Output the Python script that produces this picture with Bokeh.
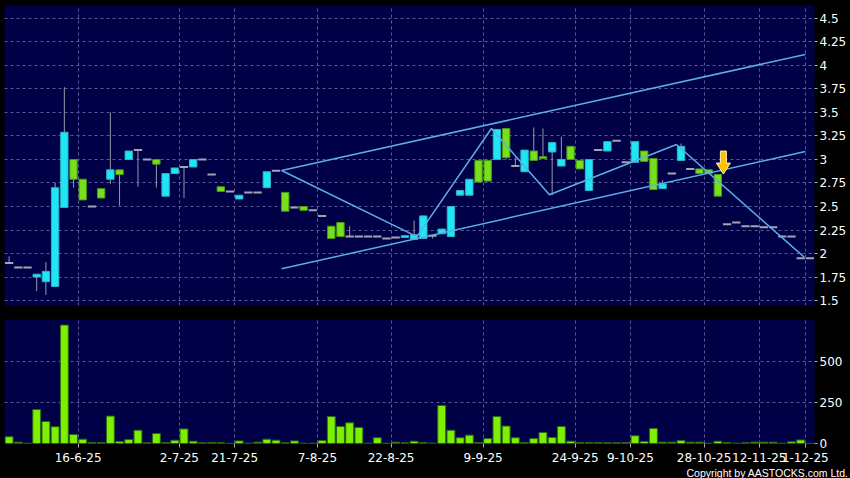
from bokeh.plotting import figure
from bokeh.layouts import column
from bokeh.models import ColumnDataSource, FixedTicker, Range1d, Title
from bokeh.embed import file_html
from bokeh.resources import INLINE

# ---------------- data ----------------
opens = [1.90, 1.85, 1.85, 1.75, 1.70, 1.65, 2.49, 3.00, 2.79, 2.50,
         2.69, 2.79, 2.89, 3.00, 3.10, 3.00, 3.00, 2.61, 2.85, 2.92,
         2.92, 3.00, 2.84, 2.71, 2.66, 2.58, 2.65, 2.65, 2.70, 2.88,
         2.65, 2.49, 2.50, 2.46, 2.40, 2.29, 2.33, 2.18, 2.18, 2.18,
         2.18, 2.16, 2.17, 2.17, 2.15, 2.16, 2.19, 2.21, 2.18, 2.62,
         2.62, 2.99, 2.99, 3.00, 3.33, 2.93, 2.87, 3.09, 3.03, 3.08,
         2.93, 3.14, 2.99, 2.67, 3.10, 3.09, 3.20, 2.97, 2.97, 3.09,
         3.01, 2.69, 2.85, 2.99, 2.90, 2.90, 2.89, 2.84, 2.31, 2.33,
         2.29, 2.29, 2.28, 2.28, 2.18, 2.18, 1.95, 1.95]
highs = [1.97, 1.85, 1.85, 1.78, 1.91, 2.75, 3.77, 3.00, 2.79, 2.50,
         2.69, 3.50, 2.89, 3.09, 3.11, 3.00, 3.00, 2.85, 2.91, 2.92,
         3.00, 3.00, 2.84, 2.71, 2.66, 2.62, 2.65, 2.65, 2.87, 2.88,
         2.65, 2.49, 2.50, 2.46, 2.40, 2.29, 2.33, 2.29, 2.18, 2.18,
         2.18, 2.16, 2.17, 2.19, 2.35, 2.40, 2.19, 2.26, 2.50, 2.67,
         2.79, 2.99, 2.99, 3.32, 3.33, 3.02, 3.10, 3.34, 3.33, 3.18,
         3.24, 3.14, 2.99, 3.00, 3.10, 3.19, 3.20, 2.97, 3.19, 3.09,
         3.01, 2.78, 2.85, 3.17, 2.90, 2.90, 2.89, 2.84, 2.31, 2.33,
         2.29, 2.29, 2.28, 2.28, 2.18, 2.18, 1.95, 1.95]
lows = [1.90, 1.85, 1.85, 1.60, 1.56, 1.65, 2.49, 2.70, 2.57, 2.50,
        2.59, 2.74, 2.51, 3.00, 2.71, 3.00, 2.70, 2.61, 2.85, 2.59,
        2.92, 3.00, 2.84, 2.66, 2.66, 2.58, 2.65, 2.65, 2.70, 2.88,
        2.45, 2.49, 2.46, 2.46, 2.40, 2.16, 2.18, 2.18, 2.18, 2.18,
        2.18, 2.16, 2.17, 2.17, 2.15, 2.16, 2.16, 2.21, 2.18, 2.62,
        2.62, 2.76, 2.77, 3.00, 3.00, 2.93, 2.87, 2.99, 3.01, 2.62,
        2.93, 3.00, 2.90, 2.67, 3.10, 3.09, 3.20, 2.97, 2.97, 2.98,
        2.68, 2.69, 2.85, 2.99, 2.90, 2.85, 2.85, 2.61, 2.30, 2.33,
        2.29, 2.29, 2.28, 2.28, 2.18, 2.18, 1.95, 1.95]
closes = [1.90, 1.85, 1.85, 1.78, 1.81, 2.70, 3.29, 2.79, 2.57, 2.50,
          2.59, 2.89, 2.84, 3.09, 3.10, 3.00, 2.95, 2.85, 2.91, 2.92,
          3.00, 3.00, 2.84, 2.66, 2.66, 2.62, 2.65, 2.65, 2.87, 2.88,
          2.45, 2.49, 2.46, 2.46, 2.40, 2.16, 2.18, 2.18, 2.18, 2.18,
          2.18, 2.16, 2.17, 2.19, 2.20, 2.40, 2.19, 2.26, 2.50, 2.67,
          2.79, 2.76, 2.77, 3.32, 3.02, 2.93, 3.10, 2.99, 3.01, 3.18,
          3.00, 3.00, 2.90, 3.00, 3.10, 3.19, 3.20, 2.97, 3.19, 2.98,
          2.68, 2.74, 2.85, 3.14, 2.90, 2.85, 2.85, 2.61, 2.31, 2.33,
          2.29, 2.29, 2.28, 2.28, 2.18, 2.18, 1.95, 1.95]
volumes = [41, 8, 2, 207, 134, 102, 722, 55, 26, 6,
           6, 167, 12, 24, 81, 4, 61, 6, 20, 89,
           14, 4, 6, 6, 1, 16, 2, 8, 26, 20,
           4, 16, 2, 2, 18, 165, 104, 126, 98, 2,
           35, 2, 8, 4, 14, 6, 2, 232, 81, 35,
           51, 6, 30, 165, 106, 35, 6, 30, 67, 37,
           104, 14, 6, 6, 6, 4, 4, 6, 47, 12,
           92, 8, 8, 18, 8, 8, 2, 14, 6, 2,
           4, 8, 8, 8, 2, 10, 22, 1]

date_tick_idx = [7, 18, 24, 33, 41, 51, 61, 67, 75, 81, 86]
date_tick_labels = ["16-6-25", "2-7-25", "21-7-25", "7-8-25", "22-8-25", "9-9-25",
                    "24-9-25", "9-10-25", "28-10-25", "12-11-25", "1-12-25"]
price_ticks = [1.5, 1.75, 2.0, 2.25, 2.5, 2.75, 3.0, 3.25, 3.5, 3.75, 4.0, 4.25, 4.5]
volume_ticks = [0, 250, 500]

channel_x = [29.6, 86.5]
channel_upper = [2.883, 4.117]
channel_lower = [1.837, 3.085]
zigzag_x = [29.6, 44.3, 52.4, 58.7, 72.5, 86.4]
zigzag_y = [2.883, 2.18, 3.33, 2.625, 3.16, 1.96]
arrow_idx = 77

# ---------------- styling ----------------
NAVY = "#000046"
GRID = "#5c5c9c"
CYAN, CYAN_LINE = "#1ee6f5", "#2fb0c4"
GREEN, GREEN_LINE = "#77e01a", "#4a9a18"
WICK = "#9898a8"
FLAT = "#a4a4b4"
VOL_FILL, VOL_LINE = "#7cf000", "#2e6418"
TREND = "#5aaee8"
FONT = "DejaVu Sans"

n = len(opens)
idx = list(range(n))
x_range = Range1d(-0.5, n - 0.5)
FW = 810
PY0, PY1 = 1.447, 4.638

def style(p):
    p.background_fill_color = NAVY
    p.border_fill_color = "black"
    p.outline_line_color = None
    for ax in p.yaxis:
        ax.axis_line_color = None
        ax.major_tick_line_color = "#b0b0b0"
        ax.major_tick_out = 3
        ax.major_tick_in = 0
        ax.minor_tick_line_color = None
        ax.major_label_text_color = "white"
        ax.major_label_text_font = FONT
        ax.major_label_text_font_size = "12px"
        ax.major_label_standoff = 2
    p.xgrid.ticker = FixedTicker(ticks=[i + 0.5 for i in date_tick_idx])
    for g in (p.xgrid, p.ygrid):
        g.grid_line_color = GRID
        g.grid_line_dash = "3 3"
        g.grid_line_width = 1

# ---------------- price panel ----------------
p1 = figure(frame_width=FW, frame_height=300, x_range=x_range,
            y_range=Range1d(PY0, PY1), output_backend="svg",
            toolbar_location=None, x_axis_location=None, y_axis_location="right",
            min_border_left=4, min_border_top=5, min_border_bottom=7, min_border_right=36)
style(p1)
p1.yaxis.ticker = FixedTicker(ticks=price_ticks)
p1.yaxis.major_label_overrides = {t: f"{t:g}" for t in price_ticks}
p1.ygrid.ticker = FixedTicker(ticks=price_ticks)

up = [i for i in idx if closes[i] > opens[i]]
dn = [i for i in idx if closes[i] < opens[i]]
fl = [i for i in idx if closes[i] == opens[i]]

p1.segment(x0=idx, y0=lows, x1=idx, y1=highs, line_color=WICK, line_width=1)
src_up = ColumnDataSource(dict(x=up, top=[closes[i] for i in up], bottom=[opens[i] for i in up]))
src_dn = ColumnDataSource(dict(x=dn, top=[opens[i] for i in dn], bottom=[closes[i] for i in dn]))
p1.vbar(x="x", top="top", bottom="bottom", width=0.8, source=src_up,
        fill_color=CYAN, line_color=CYAN_LINE, line_width=1)
p1.vbar(x="x", top="top", bottom="bottom", width=0.8, source=src_dn,
        fill_color=GREEN, line_color=GREEN_LINE, line_width=1)
p1.segment(x0=[i - 0.45 for i in fl], y0=[closes[i] for i in fl],
           x1=[i + 0.45 for i in fl], y1=[closes[i] for i in fl],
           line_color=FLAT, line_width=2)

p1.line(channel_x, channel_upper, line_color=TREND, line_width=1.5)
p1.line(channel_x, channel_lower, line_color=TREND, line_width=1.5)
p1.line(zigzag_x, zigzag_y, line_color=TREND, line_width=1.5)

# down arrow marker above the breakdown candle (pixel sizes converted to data units)
px_x = n / float(FW)
px_y = (PY1 - PY0) / 300.0
ax0 = arrow_idx + 0.6
ay0 = opens[arrow_idx] + 0.005
shape = [(0, 0), (-7, 11), (-3, 11), (-3, 23), (3, 23), (3, 11), (7, 11)]
p1.patch([ax0 + dx * px_x for dx, dy in shape], [ay0 + dy * px_y for dx, dy in shape],
         fill_color="#ffc000", line_color="#fff2b0", line_width=1)

# ---------------- volume panel ----------------
p2 = figure(frame_width=FW, frame_height=124, x_range=x_range,
            y_range=Range1d(0, 756), output_backend="svg",
            toolbar_location=None, y_axis_location="right",
            min_border_left=4, min_border_top=7, min_border_bottom=0, min_border_right=36)
style(p2)
p2.yaxis.ticker = FixedTicker(ticks=volume_ticks)
p2.ygrid.ticker = FixedTicker(ticks=volume_ticks)
p2.xaxis.ticker = FixedTicker(ticks=[i + 0.5 for i in date_tick_idx])
p2.xaxis.major_label_overrides = {i + 0.5: lab for i, lab in zip(date_tick_idx, date_tick_labels)}
xa = p2.xaxis[0]
xa.axis_line_color = None
xa.major_tick_line_color = "#b0b0b0"
xa.major_tick_out = 4
xa.major_tick_in = 0
xa.minor_tick_line_color = None
xa.major_label_text_color = "white"
xa.major_label_text_font = FONT
xa.major_label_text_font_size = "12px"
xa.major_label_standoff = 5

p2.vbar(x=idx, top=volumes, bottom=0, width=0.86, fill_color=VOL_FILL,
        line_color=VOL_LINE, line_width=1)

p2.add_layout(Title(text="Copyright by AASTOCKS.com Ltd.", align="right", offset=-34,
                    standoff=0, text_color="white", text_font="Liberation Sans",
                    text_font_size="10.5px", text_font_style="normal"), "below")

layout = column(p1, p2, spacing=0)
layout.styles = {"background-color": "black"}
open("out.html", "w").write(file_html(layout, INLINE))
